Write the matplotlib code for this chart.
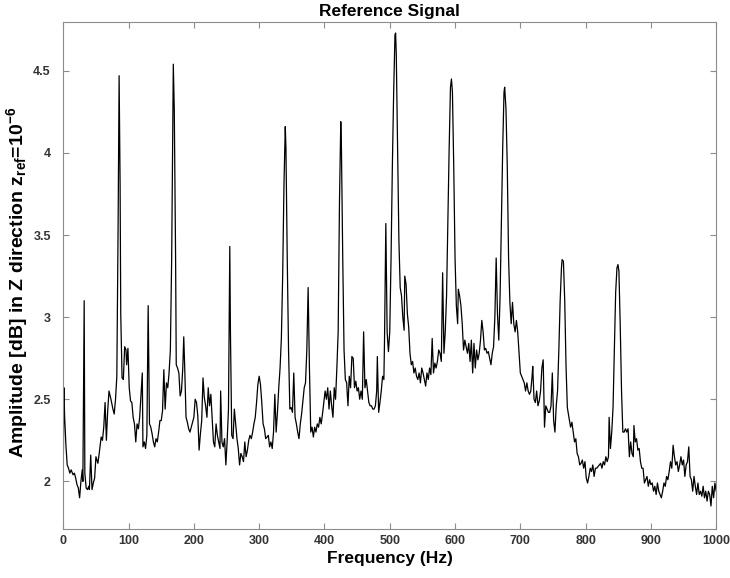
"""
Reference signal spectrum — amplitude vs frequency (MATLAB-style figure).
"""

import matplotlib
matplotlib.use("Agg")
import matplotlib.pyplot as plt
from matplotlib.ticker import FormatStrFormatter

# ---------------------------------------------------------------------------
# Data
# ---------------------------------------------------------------------------
freq_hz = [
    0, 1, 2, 4, 6, 8, 10, 12, 15, 17, 19, 21, 23, 25, 27, 29, 30, 32, 33, 35,
    37, 39, 40, 42, 44, 46, 48, 50, 53, 55, 58, 60, 62, 64, 66, 68, 70, 73, 76, 78,
    80, 82, 84, 85.5, 87, 88, 90, 92, 94, 96, 97, 99, 101, 103, 105, 107, 109, 111, 113, 115,
    117, 119, 121, 122, 124, 126, 128, 130, 132, 134, 136, 138, 140, 142, 144, 146, 148, 150, 152, 154,
    156, 158, 160, 162, 164, 166, 168.5, 170, 172, 173, 175, 177, 179, 181, 183, 184.5, 186, 188, 190, 192,
    194, 196, 198, 200, 202, 204, 206, 208, 210, 212, 214, 216, 218, 220, 222, 224, 226, 228, 230, 232,
    234, 236, 238, 240, 241, 243, 245, 247, 249, 251, 253, 255, 256, 258, 260, 262, 264, 266, 268, 270,
    272, 274, 276, 278, 280, 282, 284, 286, 288, 290, 292, 294, 296, 298, 300, 302, 304, 306, 308, 310,
    312, 314, 316, 318, 320, 322, 324, 326, 328, 330, 332, 334, 336, 338, 340, 341, 343, 345, 347, 349,
    351, 353, 355, 357, 359, 361, 363, 365, 367, 369, 371, 373, 375, 377, 379, 381, 383, 385, 387, 389,
    391, 393, 395, 397, 399, 401, 403, 405, 407, 409, 411, 413, 415, 417, 419, 421, 423, 425, 426, 428,
    430, 432, 434, 436, 438, 440, 442, 444, 446, 448, 450, 452, 454, 456, 458, 460, 462, 464, 466, 468,
    470, 472, 474, 476, 478, 480, 481, 483, 485, 487, 489, 491, 492, 494, 496, 498, 500, 502, 504, 506,
    508, 509, 510, 512, 514, 516, 518, 520, 522, 523, 525, 527, 529, 531, 533, 535, 537, 539, 541, 543,
    545, 547, 549, 551, 553, 555, 557, 559, 561, 563, 565, 567, 569, 571, 573, 575, 577, 579, 581, 583,
    585, 587, 589, 591, 593, 594.5, 596, 598, 600, 602, 604, 605, 607, 609, 611, 613, 615, 617, 619, 621,
    623, 625, 627, 629, 631, 633, 635, 637, 639, 641, 643, 645, 647, 649, 651, 653, 655, 657, 659, 661,
    663, 665, 667, 669, 671, 673, 675, 676, 678, 680, 682, 684, 686, 688, 690, 692, 694, 696, 698, 700,
    702, 704, 706, 708, 710, 712, 714, 716, 718, 719, 721, 723, 725, 727, 729, 731, 733, 735, 737, 739,
    741, 743, 745, 747, 749, 751, 753, 755, 757, 759, 761, 763, 764, 766, 768, 770, 772, 774, 777, 779,
    781, 783, 785, 787, 789, 791, 793, 795, 797, 799, 801, 803, 805, 807, 809, 811, 813, 815, 817, 819,
    821, 823, 825, 827, 829, 831, 833, 835, 836, 838, 840, 842, 844, 846, 848, 849.5, 851, 853, 855, 857,
    859, 861, 863, 865, 867, 869, 871, 873, 874, 876, 878, 880, 882, 884, 886, 888, 890, 892, 894, 896,
    898, 900, 902, 904, 906, 908, 910, 912, 914, 916, 918, 920, 922, 924, 926, 928, 930, 932, 934, 936,
    938, 940, 942, 944, 946, 948, 950, 952, 954, 956, 958, 960, 962, 964, 966, 968, 970, 972, 974, 976,
    978, 980, 982, 984, 986, 988, 990, 992, 994, 996, 998, 1000,
]

amplitude_db = [
    2.10, 2.57, 2.40, 2.22, 2.10, 2.08, 2.05, 2.07, 2.04, 2.05, 2.02, 1.98, 1.96, 1.90, 2.00, 2.07, 2.00, 3.10, 2.05, 1.96,
    1.95, 1.97, 1.95, 2.16, 1.95, 1.99, 2.02, 2.15, 2.11, 2.17, 2.27, 2.25, 2.33, 2.48, 2.25, 2.43, 2.55, 2.50, 2.44, 2.41,
    2.50, 2.64, 3.58, 4.47, 3.81, 3.02, 2.63, 2.62, 2.82, 2.80, 2.71, 2.81, 2.57, 2.49, 2.48, 2.39, 2.35, 2.24, 2.35, 2.32,
    2.39, 2.52, 2.66, 2.21, 2.24, 2.20, 2.28, 3.07, 2.35, 2.33, 2.29, 2.24, 2.21, 2.26, 2.24, 2.30, 2.37, 2.37, 2.43, 2.68,
    2.44, 2.60, 2.57, 2.66, 2.80, 3.36, 4.54, 4.26, 3.36, 2.71, 2.69, 2.66, 2.52, 2.55, 2.69, 2.88, 2.69, 2.39, 2.36, 2.32,
    2.30, 2.33, 2.36, 2.39, 2.50, 2.48, 2.40, 2.19, 2.29, 2.37, 2.63, 2.51, 2.46, 2.39, 2.57, 2.46, 2.53, 2.39, 2.24, 2.21,
    2.35, 2.28, 2.24, 2.20, 2.55, 2.24, 2.21, 2.26, 2.10, 2.25, 2.44, 3.43, 2.91, 2.28, 2.26, 2.44, 2.35, 2.26, 2.20, 2.10,
    2.17, 2.15, 2.12, 2.24, 2.15, 2.19, 2.25, 2.28, 2.26, 2.30, 2.35, 2.39, 2.48, 2.59, 2.64, 2.59, 2.48, 2.35, 2.32, 2.26,
    2.27, 2.28, 2.21, 2.24, 2.20, 2.30, 2.53, 2.30, 2.42, 2.57, 2.69, 2.87, 3.25, 3.81, 4.16, 4.03, 3.36, 2.80, 2.44, 2.45,
    2.42, 2.66, 2.39, 2.35, 2.30, 2.26, 2.35, 2.41, 2.49, 2.57, 2.60, 2.80, 3.18, 2.69, 2.30, 2.33, 2.27, 2.33, 2.30, 2.35,
    2.33, 2.39, 2.35, 2.41, 2.48, 2.55, 2.50, 2.57, 2.44, 2.55, 2.46, 2.39, 2.57, 2.50, 2.69, 2.91, 3.70, 4.19, 4.03, 3.36,
    2.80, 2.62, 2.60, 2.46, 2.64, 2.57, 2.76, 2.75, 2.57, 2.61, 2.55, 2.57, 2.50, 2.55, 2.50, 2.91, 2.57, 2.62, 2.55, 2.48,
    2.46, 2.46, 2.44, 2.44, 2.46, 2.55, 2.76, 2.42, 2.48, 2.55, 2.64, 2.62, 2.86, 3.57, 2.91, 2.79, 2.91, 3.36, 3.92, 4.37,
    4.72, 4.73, 4.60, 4.03, 3.47, 3.18, 3.13, 3.00, 2.92, 3.25, 3.20, 3.02, 2.94, 2.78, 2.71, 2.73, 2.66, 2.69, 2.64, 2.62,
    2.66, 2.60, 2.69, 2.66, 2.62, 2.58, 2.66, 2.62, 2.69, 2.65, 2.87, 2.66, 2.72, 2.69, 2.73, 2.80, 2.78, 2.73, 3.27, 2.78,
    2.91, 3.13, 3.58, 4.03, 4.40, 4.45, 4.37, 3.92, 3.36, 3.07, 2.96, 3.17, 3.13, 3.07, 2.96, 2.80, 2.86, 2.82, 2.78, 2.84,
    2.73, 2.86, 2.66, 2.84, 2.69, 2.80, 2.74, 2.78, 2.86, 2.98, 2.91, 2.80, 2.81, 2.78, 2.79, 2.75, 2.71, 2.78, 2.82, 3.00,
    3.36, 3.02, 2.86, 3.13, 3.58, 4.03, 4.37, 4.40, 4.27, 3.92, 3.36, 3.09, 2.96, 3.09, 2.96, 2.91, 2.98, 2.91, 2.78, 2.66,
    2.64, 2.62, 2.60, 2.55, 2.60, 2.55, 2.53, 2.55, 2.64, 2.70, 2.50, 2.48, 2.55, 2.46, 2.49, 2.55, 2.69, 2.74, 2.33, 2.46,
    2.44, 2.42, 2.42, 2.46, 2.66, 2.37, 2.30, 2.46, 2.55, 2.80, 3.10, 3.30, 3.35, 3.34, 3.10, 2.70, 2.45, 2.40, 2.33, 2.36,
    2.30, 2.24, 2.26, 2.17, 2.15, 2.10, 2.11, 2.13, 2.08, 2.12, 2.02, 1.99, 2.03, 2.08, 2.06, 2.10, 2.03, 2.08, 2.08, 2.09,
    2.10, 2.11, 2.08, 2.12, 2.10, 2.15, 2.12, 2.15, 2.39, 2.20, 2.30, 2.45, 2.80, 3.15, 3.30, 3.32, 3.28, 2.95, 2.55, 2.30,
    2.30, 2.32, 2.30, 2.32, 2.15, 2.24, 2.17, 2.15, 2.34, 2.24, 2.26, 2.19, 2.20, 2.12, 2.08, 2.08, 1.99, 2.01, 2.03, 1.97,
    2.01, 1.98, 1.99, 1.94, 1.97, 1.92, 1.99, 1.94, 1.92, 1.90, 1.94, 1.99, 1.97, 2.03, 2.01, 2.06, 2.12, 2.08, 2.22, 2.15,
    2.10, 2.12, 2.06, 2.10, 2.15, 2.10, 2.13, 2.03, 2.10, 2.12, 2.21, 2.03, 2.01, 1.94, 2.03, 1.97, 1.92, 1.99, 1.92, 1.94,
    1.91, 1.97, 1.90, 1.94, 1.88, 1.94, 1.92, 1.85, 1.97, 1.90, 1.99, 1.94,
]

x_ticks = [0, 100, 200, 300, 400, 500, 600, 700, 800, 900, 1000]
y_ticks = [2, 2.5, 3, 3.5, 4, 4.5]

# ---------------------------------------------------------------------------
# Figure
# ---------------------------------------------------------------------------
plt.rcParams["font.family"] = ["Liberation Sans", "DejaVu Sans"]
plt.rcParams["mathtext.fontset"] = "custom"
plt.rcParams["mathtext.rm"] = "Liberation Sans:bold"
plt.rcParams["mathtext.it"] = "Liberation Sans:bold"
plt.rcParams["mathtext.bf"] = "Liberation Sans:bold"

fig = plt.figure(figsize=(7.3, 5.78), dpi=100)
ax = fig.add_axes([0.0867, 0.0848, 0.8944, 0.878])

ax.plot(freq_hz, amplitude_db, color="black", linewidth=0.9)

ax.set_xlim(0, 1000)
ax.set_ylim(1.71, 4.80)
ax.set_xticks(x_ticks)
ax.set_yticks(y_ticks)
ax.yaxis.set_major_formatter(FormatStrFormatter("%g"))

box_grey = "#8c8c8c"
for spine in ax.spines.values():
    spine.set_color(box_grey)
    spine.set_linewidth(0.8)
ax.tick_params(direction="in", length=4, width=0.8, color=box_grey,
               top=True, right=True, labelcolor="#333333", labelsize=9)
ax.tick_params(axis="y", pad=9)
ax.tick_params(axis="x", pad=4)
for lbl in ax.get_xticklabels() + ax.get_yticklabels():
    lbl.set_fontweight("bold")

ax.set_title("Reference Signal", fontsize=12.5, fontweight="bold", pad=4)
ax.set_xlabel("Frequency (Hz)", fontsize=12.5, fontweight="bold", labelpad=3)
ax.set_ylabel(r"Amplitude [dB] in Z direction z$_{\rm ref}$=10$^{-6}$",
              fontsize=14, fontweight="bold")
ax.yaxis.set_label_coords(-0.051, 0.485)

fig.savefig("out.png", dpi=100)
